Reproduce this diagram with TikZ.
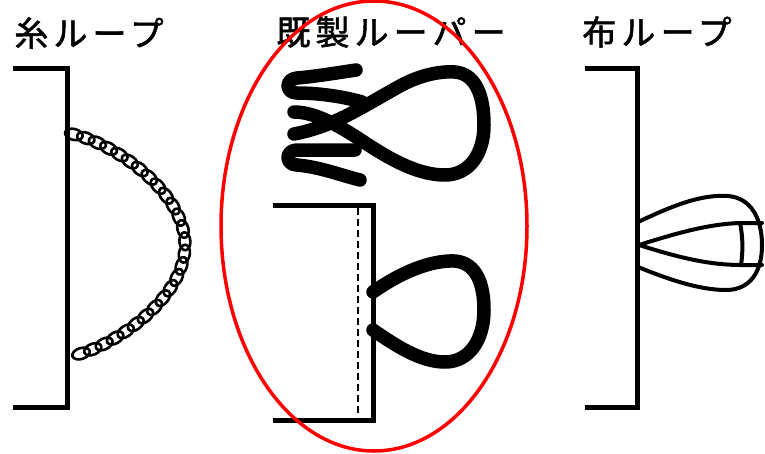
\documentclass[tikz,border=0pt]{standalone}
\usepackage{fontspec}
\usetikzlibrary{decorations.markings}
\newfontfamily\jpfont[LetterSpace=15, FakeBold=1.5]{Noto Sans CJK JP}

\tikzset{
  title/.style={font=\jpfont\fontsize{34}{34}\selectfont, inner sep=0pt, anchor=center},
  bracket/.style={line width=5pt, line join=miter},
  wire/.style={line width=13.5pt, line cap=round, line join=round},
  cloth/.style={line width=4pt, line cap=round, line join=round},
  chain/.style={
    postaction={decorate},
    decoration={markings,
      mark=between positions 7pt and -7pt step 12.5pt with {
        \draw[line width=2.6pt] (0,0) ellipse [x radius=9pt, y radius=5.5pt];
      }}
  },
  seam/.style={line width=2.2pt, dash pattern=on 7pt off 4pt},
  ring/.style={draw=red, line width=3.5pt}
}

\begin{document}
\begin{tikzpicture}[x=1pt, y=-1pt]
\useasboundingbox (0,0) rectangle (765,453);
\fill[white] (0,0) rectangle (765,453);

% titles
\node[title] (t1) at (89,33) {糸ループ};
\node[title] (t2) at (391,32) {既製ルーパー};
\node[title] (t3) at (657,32) {布ループ};

% thread loop: bracket and crocheted chain
\draw[bracket] (13,68) -- (67,68) -- (67,407) -- (13,407);
\path[chain] (67,133) .. controls (110,140) and (185,190) .. (185,245)
             .. controls (185,300) and (110,350) .. (67,357);

% ready-made looper: coil with teardrop loop
\draw[wire] (356,70) .. controls (330,74) and (310,77) .. (297,78)
            .. controls (285,79) and (285,93) .. (297,93)
            .. controls (320,93) and (345,97) .. (362,102);
\draw[wire] (294,134) .. controls (335,126) and (360,108) .. (400,86)
            .. controls (420,75) and (440,71) .. (455,72)
            .. controls (477,74) and (484,98) .. (484,125)
            .. controls (484,154) and (469,175) .. (445,175)
            .. controls (420,175) and (395,162) .. (370,146)
            .. controls (350,133) and (320,112) .. (294,112);
\draw[wire] (355,150) .. controls (335,150) and (310,150) .. (297,150)
            .. controls (285,150) and (285,165) .. (297,165)
            .. controls (320,167) and (340,175) .. (360,180);

% ready-made looper sewn into the seam
\draw[bracket] (273,205) -- (373,205) -- (373,420) -- (273,420);
\draw[seam] (358,208) -- (358,417);
\draw[wire] (373,292) .. controls (400,273) and (430,260) .. (455,261)
            .. controls (477,263) and (484,285) .. (484,310)
            .. controls (484,340) and (469,362) .. (445,362)
            .. controls (420,362) and (395,345) .. (373,330);

% fabric loop
\draw[bracket] (585,68) -- (637,68) -- (637,407) -- (585,407);
\draw[cloth] (638,222) .. controls (670,207) and (700,194) .. (728,196)
             .. controls (752,198) and (762,220) .. (762,245)
             .. controls (762,272) and (750,290) .. (726,290)
             .. controls (700,290) and (670,280) .. (638,267);
\draw[cloth] (762,223) -- (740,223) .. controls (710,224) and (680,232) .. (639,245)
             .. controls (680,258) and (710,265) .. (741,265) -- (762,265);
\draw[cloth] (740,223) .. controls (743,237) and (743,252) .. (741,265);

% highlight ring
\draw[ring] (374,226) ellipse [x radius=153, y radius=225];
\end{tikzpicture}
\end{document}
